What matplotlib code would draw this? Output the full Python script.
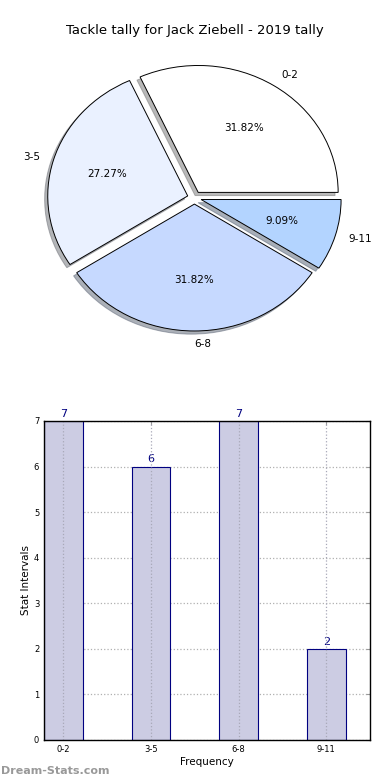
import matplotlib
matplotlib.use("Agg")
import matplotlib.pyplot as plt

# data
intervals = ["0-2", "3-5", "6-8", "9-11"]
counts = [7, 6, 7, 2]
pie_colors = ["#ffffff", "#eaf1ff", "#c6d9ff", "#b3d4ff"]
title = "Tackle tally for Jack Ziebell - 2019 tally"

fig = plt.figure(figsize=(3.9, 7.8), dpi=100)

# pie chart (elliptical, like the original)
ax1 = fig.add_axes([0.032, 0.535, 0.933, 0.423])
wedges, texts, autotexts = ax1.pie(
    counts, labels=intervals, colors=pie_colors, startangle=0,
    explode=[0.05] * len(counts),
    shadow={"ox": -0.016, "oy": -0.018, "shade": 0.55},
    autopct="%.2f%%",
    wedgeprops={"edgecolor": "black", "linewidth": 0.7},
    textprops={"fontsize": 7.5})
ax1.set_aspect("auto")
ax1.set_xlim(-1.3, 1.3)
ax1.set_ylim(-1.3, 1.3)
fig.text(0.5, 0.961, title, ha="center", va="center", fontsize=9.5)

# bar chart
ax2 = fig.add_axes([0.113, 0.0513, 0.836, 0.409])
x = list(range(len(counts)))
ax2.bar(x, counts, width=0.44, color="#ccccE3", edgecolor="navy",
        linewidth=0.8, zorder=2)
for i, c in zip(x, counts):
    ax2.text(i, c + 0.05, str(c), ha="center", va="bottom", color="navy", fontsize=8)
ax2.set_xlim(-0.22, 3.5)
ax2.set_ylim(0, 7)
ax2.set_xticks(x)
ax2.set_xticklabels(intervals)
ax2.set_yticks(range(8))
ax2.tick_params(labelsize=6, direction="in", top=True, right=True, length=3, color="#999999")
ax2.yaxis.grid(True, linestyle=":", color="#b0b0b0", linewidth=0.9, zorder=0)
ax2.set_axisbelow(True)
# vertical grid shows through the bars in the original
for xi in x:
    ax2.axvline(xi, linestyle=":", color="#a8a8b8", linewidth=0.9, zorder=3)
ax2.set_xlabel("Frequency", fontsize=7.5, labelpad=2)
ax2.set_ylabel("Stat Intervals", fontsize=7.5, labelpad=2)
for s in ax2.spines.values():
    s.set_linewidth(1)
    s.set_zorder(4)

fig.text(0.003, 0.012, "Dream-Stats.com", fontsize=8, color="#999999",
         fontweight="bold", ha="left", va="center")

fig.savefig("out.png", dpi=100)
